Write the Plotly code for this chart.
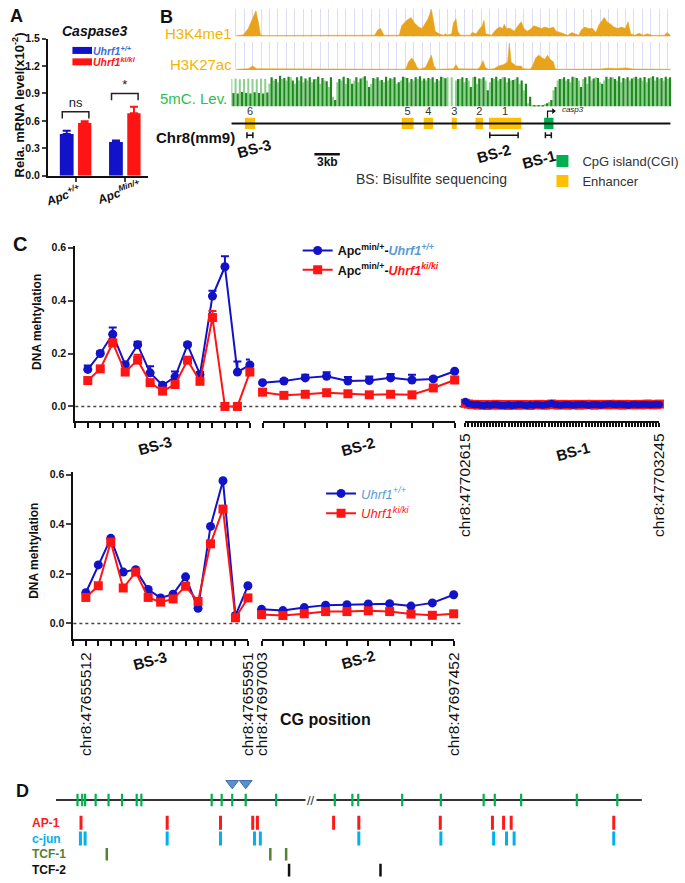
import plotly.graph_objects as go

W, H = 685, 883
FONT = "Liberation Sans, Arial, sans-serif"

# ======================= DATA =======================
# ---- Panel A : Caspase3 mRNA ----
a_groups = [1, 2]
a_group_labels = ["Apc<sup>+/+</sup>", "Apc<sup>Min/+</sup>"]
a_series = ["Uhrf1<sup>+/+</sup>", "Uhrf1<sup>ki/ki</sup>"]
a_wt = [0.457, 0.367]
a_wt_err = [0.035, 0.018]
a_ki = [0.576, 0.683]
a_ki_err = [0.018, 0.072]
a_sig_text = ["ns", "*"]
a_sig_y = [0.70, 0.90]
a_yticks = [0.0, 0.3, 0.6, 0.9, 1.2, 1.5]

# ---- Panel B : locus tracks (kb along locus) ----
locus_kb = 51.8
k4_x = [0.6, 1.4, 2.0, 2.5, 2.9, 3.2, 3.45, 3.9, 16.6, 16.9, 17.3, 17.6, 18.0,
        19.8, 20.1, 20.7, 21.2, 21.6, 22.1, 22.5, 22.9, 23.2, 23.6, 23.8, 24.05, 24.5, 25.0, 25.3, 25.5,
        26.0, 26.2, 26.5, 26.7, 27.0, 28.2, 28.4, 28.9, 29.2, 29.6, 29.8, 30.0, 30.7, 31.2, 31.6, 32.0,
        32.2, 32.45, 32.9, 33.4, 33.7, 34.2, 34.5, 34.9, 35.2, 35.7, 36.1, 36.6, 37.0, 37.5, 38.0, 38.3,
        38.8, 39.2, 39.7, 40.2, 40.5, 41.0, 41.3, 41.7, 42.1, 42.6, 43.0, 43.4, 43.7, 44.0, 44.3, 44.8,
        45.1, 45.6, 46.0, 46.5, 46.8, 47.1, 47.6, 48.1, 48.6, 49.1, 49.7, 51.1, 51.4, 51.8]
k4_y = [0.04, 0.06, 0.3, 0.7, 0.95, 0.5, 0.05, 0.04, 0.04, 0.05, 0.25, 0.3, 0.05,
        0.05, 0.4, 0.6, 0.7, 0.5, 0.35, 0.3, 0.5, 0.65, 1.0, 0.6, 0.2, 0.1, 0.05, 0.1, 0.05,
        0.1, 0.5, 0.65, 0.2, 0.05, 0.05, 0.15, 0.1, 0.25, 0.4, 0.6, 0.1, 0.05, 0.25, 0.35, 0.3,
        0.45, 0.3, 0.3, 0.2, 0.35, 0.55, 0.3, 0.2, 0.25, 0.4, 0.35, 0.3, 0.35, 0.3, 0.35, 0.2,
        0.15, 0.1, 0.05, 0.15, 0.1, 0.05, 0.25, 0.35, 0.3, 0.3, 0.15, 0.45, 0.6, 0.7, 0.55, 0.45,
        0.35, 0.3, 0.35, 0.3, 0.55, 0.1, 0.05, 0.12, 0.05, 0.1, 0.04, 0.05, 0.15, 0.05]
k27_x = [0.6, 2.0, 2.5, 3.0, 20.3, 20.6, 20.9, 21.3, 21.7, 21.9, 22.2, 22.9, 23.6, 23.9, 24.2,
         26.2, 26.5, 26.8, 29.0, 29.3, 29.7, 29.95, 30.3, 31.0, 31.5, 32.1, 32.6, 32.8, 33.0, 33.6,
         34.2, 34.4, 35.3, 35.6, 35.9, 36.25, 36.7, 37.0, 37.3, 37.6, 38.0, 38.2, 38.5, 43.6, 44.3,
         45.5, 46.6, 47.4, 51.8]
k27_y = [0.03, 0.05, 0.15, 0.05, 0.03, 0.05, 0.3, 0.45, 0.25, 0.1, 0.03, 0.1, 0.55, 0.15, 0.03,
         0.05, 0.2, 0.05, 0.04, 0.1, 0.35, 0.1, 0.03, 0.05, 0.15, 0.2, 0.3, 1.0, 0.3, 0.15,
         0.15, 0.05, 0.04, 0.2, 0.45, 0.55, 0.45, 0.4, 0.55, 0.4, 0.3, 0.05, 0.03, 0.04, 0.07,
         0.06, 0.08, 0.04, 0.03]
mc_dark = [0.42, 0.4, 0.45, 0.42, 0.4, 0.44, 0.42, 0.4, 0.43,
           0.9, 0.85, 0.95, 0.88, 0.92, 0.8, 0.9, 0.93, 0.86,
           0.9, 0.84, 0.92, 0.88, 0.78, 0.9, 0.2,
           0.85, 0.92, 0.88, 0.7, 0.9, 0.86, 0.93, 0.6, 0.88, 0.9, 0.82, 0.92, 0.87, 0.9, 0.75, 0.92, 0.88, 0.85, 0.9, 0.93, 0.86,
           0.88, 0.9, 0.85, 0.92, 0.87,
           0.0, 0.0,
           0.85, 0.9, 0.88, 0.6, 0.92, 0.86, 0.9, 0.5, 0.88, 0.92, 0.85, 0.9, 0.87, 0.82, 0.9, 0.8, 0.7,
           0.3, 0.05, 0.05, 0.05, 0.1,
           0.2, 0.6, 0.85,
           0.9, 0.85, 0.92, 0.88, 0.6, 0.9, 0.93, 0.86, 0.88, 0.7, 0.92, 0.9, 0.85, 0.93, 0.88, 0.9, 0.86, 0.92, 0.89, 0.91, 0.87, 0.93, 0.9, 0.88, 0.92, 0.9]
mc_light = [0.85, 0.86, 0.84, 0.85, 0.86, 0.85, 0.84, 0.86, 0.85,
            0.7, 0.8, 0.75, 0.85, 0.8, 0.9, 0.7, 0.8, 0.75,
            0.8, 0.75, 0.85, 0.7, 0.8, 0.6, 0.3,
            0.75, 0.8, 0.7, 0.85, 0.8, 0.75, 0.9, 0.8, 0.7, 0.85, 0.8, 0.75, 0.8, 0.85, 0.7, 0.8, 0.9, 0.75, 0.8, 0.85, 0.8,
            0.8, 0.85, 0.75, 0.8, 0.9,
            0.9, 0.9,
            0.8, 0.85, 0.75, 0.8, 0.9, 0.7, 0.85, 0.8, 0.75, 0.85, 0.8, 0.9, 0.75, 0.8, 0.85, 0.7, 0.5,
            0.1, 0.03, 0.03, 0.04, 0.08,
            0.15, 0.5, 0.8,
            0.85, 0.8, 0.75, 0.9, 0.8, 0.85, 0.7, 0.8, 0.9, 0.75, 0.8, 0.85, 0.9, 0.8, 0.75, 0.85, 0.8, 0.9, 0.85, 0.8, 0.75, 0.9, 0.8, 0.85, 0.8, 0.85]
mc_bin_kb = 0.5
enh_names = ["6", "5", "4", "3", "2", "1"]
enh_start = [1.6, 20.1, 22.7, 26.0, 28.8, 30.4]
enh_end = [2.8, 21.5, 23.8, 26.6, 29.7, 34.2]
cgi_start, cgi_end = [36.9], [38.0]
tss_kb = 37.3
bs_names = ["BS-3", "BS-2", "BS-1"]
bs_center = [2.19, 32.16, 37.4]
bs_half = [0.35, 1.67, 0.35]
scale_kb = [9.8, 12.8]

# ---- Panel C : DNA methylation per CG ----
top_bs3_wt = [0.14, 0.20, 0.273, 0.158, 0.233, 0.127, 0.08, 0.112, 0.233, 0.121, 0.417, 0.528, 0.13, 0.157]
top_bs3_wt_err = [0.015, 0.008, 0.025, 0.008, 0.012, 0.025, 0.008, 0.02, 0.008, 0.008, 0.02, 0.04, 0.04, 0.02]
top_bs3_ki = [0.098, 0.142, 0.24, 0.13, 0.175, 0.09, 0.058, 0.083, 0.175, 0.095, 0.336, 0.0, 0.0, 0.13]
top_bs3_ki_err = [0, 0, 0.012, 0, 0.02, 0, 0, 0, 0.01, 0, 0.025, 0, 0, 0.008]
top_bs2_wt = [0.09, 0.096, 0.108, 0.114, 0.096, 0.098, 0.108, 0.10, 0.104, 0.133]
top_bs2_wt_err = [0.0, 0.008, 0.012, 0.015, 0.015, 0.015, 0.015, 0.02, 0.006, 0.0]
top_bs2_ki = [0.054, 0.042, 0.046, 0.052, 0.048, 0.044, 0.046, 0.044, 0.07, 0.10]
top_bs1_wt = [0.02, 0.01, 0.008, 0.006, 0.007, 0.005, 0.004, 0.006, 0.005, 0.006, 0.007, 0.005, 0.004, 0.005,
              0.006, 0.004, 0.005, 0.006, 0.007, 0.005, 0.004, 0.006, 0.005, 0.007, 0.006, 0.005, 0.006, 0.008,
              0.012, 0.007, 0.006, 0.005, 0.006, 0.007, 0.006, 0.005, 0.006, 0.007, 0.008, 0.006, 0.005, 0.006,
              0.007, 0.006, 0.005, 0.007, 0.008, 0.009, 0.007, 0.006, 0.008, 0.007, 0.006, 0.005, 0.007, 0.008,
              0.006, 0.007, 0.008, 0.007, 0.006, 0.007, 0.008, 0.007]
top_bs1_ki = [0.012, 0.009, 0.007, 0.008, 0.005, 0.007, 0.006, 0.004, 0.007, 0.005, 0.008, 0.006, 0.005, 0.007,
              0.004, 0.006, 0.007, 0.005, 0.006, 0.007, 0.006, 0.004, 0.007, 0.006, 0.008, 0.006, 0.005, 0.007,
              0.009, 0.008, 0.005, 0.007, 0.008, 0.005, 0.007, 0.006, 0.008, 0.005, 0.007, 0.008, 0.006, 0.008,
              0.005, 0.007, 0.008, 0.006, 0.007, 0.008, 0.006, 0.008, 0.007, 0.005, 0.008, 0.007, 0.006, 0.007,
              0.008, 0.006, 0.007, 0.009, 0.008, 0.006, 0.007, 0.009]
bot_bs3_wt = [0.124, 0.236, 0.343, 0.207, 0.217, 0.137, 0.103, 0.118, 0.188, 0.061, 0.391, 0.575, 0.032, 0.152]
bot_bs3_ki = [0.105, 0.152, 0.328, 0.143, 0.207, 0.105, 0.086, 0.099, 0.150, 0.089, 0.321, 0.461, 0.023, 0.103]
bot_bs2_wt = [0.057, 0.052, 0.064, 0.074, 0.076, 0.079, 0.080, 0.070, 0.083, 0.116]
bot_bs2_ki = [0.036, 0.032, 0.039, 0.048, 0.048, 0.051, 0.048, 0.038, 0.033, 0.039]
c_yticks = [0.0, 0.2, 0.4, 0.6]
bs3_pos = ["chr8:47655512", "chr8:47655951"]
bs2_pos = ["chr8:47697003", "chr8:47697452"]
bs1_pos = ["chr8:47702615", "chr8:47703245"]

# ---- Panel D : motif map (relative position 0-100) ----
d_cg = [3.7, 4.5, 5.0, 6.8, 9.0, 11.3, 13.8, 14.6, 26.6, 28.3, 30.1, 32.4, 37.6,
        47.6, 50.6, 51.6, 59.1, 65.7, 73.0, 74.9, 79.4, 88.9, 95.8]
d_marked = [30.1, 32.4]
d_ap1 = [4.3, 19.0, 28.1, 33.6, 34.4, 47.4, 51.7, 65.6, 74.5, 76.4, 77.7, 95.2]
d_cjun = [4.2, 5.0, 19.0, 28.1, 33.9, 34.9, 51.7, 65.7, 74.7, 76.9, 78.2, 95.2]
d_tcf1 = [8.7, 36.6, 39.3]
d_tcf2 = [39.8, 55.4]
d_break = 43.6
d_rows = {"line": 0.0, "mark": 0.85, "AP-1": -1.15, "c-jun": -1.95, "TCF-1": -2.75, "TCF-2": -3.55}

# ======================= HELPERS =======================
def PX(x):
    return x / W

def PY(y):
    return 1 - y / H

def dom_x(a, b):
    return [PX(a), PX(b)]

def dom_y(top, bottom):
    return [PY(bottom), PY(top)]

BLUE = "#1212c8"
RED = "#ff1414"
LBLUE = "#5b9bd5"
ORANGE = "#e9a31b"
DGREEN = "#1d8a1d"
LGREEN = "#8fcf8f"

fig = go.Figure()
annotations = []
shapes = []

def ann(text, x, y, size=12, bold=False, color="#111", angle=0, xanchor="center", yanchor="middle",
        italic=False, xref="paper", yref="paper", bgcolor=None):
    t = text
    if italic:
        t = "<i>" + t + "</i>"
    if bold:
        t = "<b>" + t + "</b>"
    d = dict(text=t, x=PX(x) if xref == "paper" else x, y=PY(y) if yref == "paper" else y,
             xref=xref, yref=yref, showarrow=False, textangle=angle,
             xanchor=xanchor, yanchor=yanchor, font=dict(size=size, color=color, family=FONT))
    if bgcolor:
        d["bgcolor"] = bgcolor
    annotations.append(d)

# ======================= PANEL A =======================
fig.add_trace(go.Bar(
    x=a_groups, y=a_wt, offset=-0.32, width=0.28, xaxis="x", yaxis="y",
    marker=dict(color=BLUE, line=dict(width=0)),
    error_y=dict(type="data", array=a_wt_err, arrayminus=[0] * len(a_wt), symmetric=False,
                 color=BLUE, thickness=2, width=4),
    name=a_series[0], showlegend=False))
fig.add_trace(go.Bar(
    x=a_groups, y=a_ki, offset=0.05, width=0.27, xaxis="x", yaxis="y",
    marker=dict(color=RED, line=dict(width=0)),
    error_y=dict(type="data", array=a_ki_err, arrayminus=[0] * len(a_ki), symmetric=False,
                 color=RED, thickness=2, width=4),
    name=a_series[1], showlegend=False))
for g, sy, st in zip(a_groups, a_sig_y, a_sig_text):
    fig.add_trace(go.Scatter(
        x=[g - 0.27, g - 0.27, g + 0.27, g + 0.27], y=[sy - 0.075, sy, sy, sy - 0.075],
        mode="lines", line=dict(color="#222", width=1.5), xaxis="x", yaxis="y",
        showlegend=False, hoverinfo="skip"))
    fig.add_trace(go.Scatter(
        x=[g], y=[sy + 0.085], mode="text", text=[st], xaxis="x", yaxis="y",
        textfont=dict(size=13, color="#222", family=FONT), showlegend=False, hoverinfo="skip"))
# compact legend of panel A (key swatches on the A axes)
for i, (nm, col, tcol) in enumerate(zip(a_series, [BLUE, RED], ["#3a6fd8", RED])):
    ly = 1.37 - 0.125 * i
    fig.add_trace(go.Scatter(x=[1.135], y=[ly], mode="markers", xaxis="x", yaxis="y",
                             marker=dict(symbol="line-ew", size=14, line=dict(color=col, width=7)),
                             showlegend=False, hoverinfo="skip", cliponaxis=False))
    ann(nm, 1.31, ly, size=10.5, bold=True, italic=True, color=tcol, xanchor="left", xref="x", yref="y")

# ======================= PANEL B =======================
fig.add_trace(go.Scatter(x=k4_x, y=k4_y, mode="lines", fill="tozeroy", fillcolor=ORANGE,
                         line=dict(color=ORANGE, width=0.6), xaxis="x2", yaxis="y2",
                         showlegend=False, hoverinfo="skip"))
fig.add_trace(go.Scatter(x=k27_x, y=k27_y, mode="lines", fill="tozeroy", fillcolor=ORANGE,
                         line=dict(color=ORANGE, width=0.6), xaxis="x3", yaxis="y3",
                         showlegend=False, hoverinfo="skip"))
mc_x_light = [i * mc_bin_kb for i in range(len(mc_light))]
mc_x_dark = [i * mc_bin_kb + mc_bin_kb / 2 for i in range(len(mc_dark))]
fig.add_trace(go.Bar(x=mc_x_light, y=mc_light, width=0.24, marker=dict(color=LGREEN, line=dict(width=0)),
                     xaxis="x4", yaxis="y4", showlegend=False, hoverinfo="skip"))
fig.add_trace(go.Bar(x=mc_x_dark, y=mc_dark, width=0.26, marker=dict(color=DGREEN, line=dict(width=0)),
                     xaxis="x4", yaxis="y4", showlegend=False, hoverinfo="skip"))

# locus map
fig.add_trace(go.Scatter(x=[0, locus_kb], y=[0, 0], mode="lines", line=dict(color="#111", width=2),
                         xaxis="x5", yaxis="y5", showlegend=False, hoverinfo="skip"))
fig.add_trace(go.Bar(orientation="h", y=[0] * len(cgi_start), base=cgi_start,
                     x=[e - s for s, e in zip(cgi_start, cgi_end)], width=0.7,
                     marker=dict(color="#00b050", line=dict(width=0)), xaxis="x5", yaxis="y5",
                     name="CpG island(CGI)", legend="legend4"))
fig.add_trace(go.Bar(orientation="h", y=[0] * len(enh_start), base=enh_start,
                     x=[e - s for s, e in zip(enh_start, enh_end)], width=0.7,
                     marker=dict(color="#ffc000", line=dict(width=0)), xaxis="x5", yaxis="y5",
                     name="Enhancer", legend="legend4"))
fig.add_trace(go.Scatter(x=[(s + e) / 2 for s, e in zip(enh_start, enh_end)], y=[0.68] * len(enh_start),
                         mode="text", text=enh_names, textfont=dict(size=11, color="#333", family=FONT),
                         xaxis="x5", yaxis="y5", showlegend=False, hoverinfo="skip"))
fig.add_trace(go.Scatter(x=bs_center, y=[-0.75] * len(bs_center), mode="markers",
                         marker=dict(size=1, color="#111"),
                         error_x=dict(type="data", array=bs_half, color="#111", thickness=1.5, width=3),
                         xaxis="x5", yaxis="y5", showlegend=False, hoverinfo="skip"))
fig.add_trace(go.Scatter(x=scale_kb, y=[-1.95, -1.95], mode="lines", line=dict(color="#111", width=2.5),
                         xaxis="x5", yaxis="y5", showlegend=False, hoverinfo="skip"))
fig.add_trace(go.Scatter(x=[tss_kb, tss_kb, tss_kb + 0.6], y=[0.35, 0.78, 0.78], mode="lines",
                         line=dict(color="#111", width=1.2), xaxis="x5", yaxis="y5",
                         showlegend=False, hoverinfo="skip"))
fig.add_trace(go.Scatter(x=[tss_kb + 0.7], y=[0.78], mode="markers",
                         marker=dict(symbol="triangle-right", size=5, color="#111"),
                         xaxis="x5", yaxis="y5", showlegend=False, hoverinfo="skip"))
fig.add_trace(go.Scatter(x=[tss_kb + 1.7], y=[0.85], mode="text", text=["<i>casp3</i>"],
                         textposition="middle right", textfont=dict(size=8, color="#222", family=FONT),
                         xaxis="x5", yaxis="y5", showlegend=False, hoverinfo="skip"))

# ======================= PANEL C =======================
def meth(xax, yax, xs, wt, ki, wt_err=None, ki_err=None, legend=None, names=None, msize=9):
    kw_ki = {}
    kw_wt = {}
    if ki_err is not None:
        kw_ki["error_y"] = dict(type="data", array=ki_err, arrayminus=[0] * len(ki), symmetric=False,
                                color=RED, thickness=2, width=4)
    if wt_err is not None:
        kw_wt["error_y"] = dict(type="data", array=wt_err, arrayminus=[0] * len(wt), symmetric=False,
                                color=BLUE, thickness=2, width=4)
    show = legend is not None
    fig.add_trace(go.Scatter(x=xs, y=wt, mode="lines+markers", xaxis=xax, yaxis=yax,
                             line=dict(color=BLUE, width=2), marker=dict(symbol="circle", size=msize, color=BLUE),
                             cliponaxis=False, showlegend=show, legend=legend or "legend",
                             name=names[0] if names else "wt", legendrank=1, **kw_wt))
    fig.add_trace(go.Scatter(x=xs, y=ki, mode="lines+markers", xaxis=xax, yaxis=yax,
                             line=dict(color=RED, width=2), marker=dict(symbol="square", size=msize, color=RED),
                             cliponaxis=False, showlegend=show, legend=legend or "legend",
                             name=names[1] if names else "ki", legendrank=2, **kw_ki))

top_names = ["<b>Apc<sup>min/+</sup>-<i><span style='color:#5b9bd5'>Uhrf1<sup>+/+</sup></span></i></b>",
             "<b>Apc<sup>min/+</sup>-<i><span style='color:#ff1414'>Uhrf1<sup>ki/ki</sup></span></i></b>"]
bot_names = ["<i><span style='color:#5b9bd5'>Uhrf1<sup>+/+</sup></span></i>",
             "<i><span style='color:#ff1414'>Uhrf1<sup>ki/ki</sup></span></i>"]

meth("x6", "y6", list(range(1, len(top_bs3_wt) + 1)), top_bs3_wt, top_bs3_ki,
     top_bs3_wt_err, top_bs3_ki_err, legend="legend2", names=top_names)
meth("x7", "y7", list(range(len(top_bs2_wt))), top_bs2_wt, top_bs2_ki, top_bs2_wt_err)
# BS-1: red drawn first (under), blue on top
fig.add_trace(go.Scatter(x=list(range(len(top_bs1_ki))), y=top_bs1_ki, mode="lines+markers", xaxis="x8", yaxis="y8",
                         line=dict(color=RED, width=2), marker=dict(symbol="square", size=9, color=RED),
                         cliponaxis=False, showlegend=False, hoverinfo="skip"))
fig.add_trace(go.Scatter(x=list(range(len(top_bs1_wt))), y=top_bs1_wt, mode="lines+markers", xaxis="x8", yaxis="y8",
                         line=dict(color=BLUE, width=2), marker=dict(symbol="circle", size=7, color=BLUE),
                         cliponaxis=False, showlegend=False, hoverinfo="skip"))
meth("x9", "y9", list(range(1, len(bot_bs3_wt) + 1)), bot_bs3_wt, bot_bs3_ki,
     legend="legend3", names=bot_names, msize=9)
meth("x10", "y10", list(range(len(bot_bs2_wt))), bot_bs2_wt, bot_bs2_ki, msize=9)

# ======================= PANEL D =======================
def dticks(xs, row, color, size, width, sym="line-ns"):
    fig.add_trace(go.Scatter(x=xs, y=[d_rows[row]] * len(xs), mode="markers", xaxis="x11", yaxis="y11",
                             marker=dict(symbol=sym, size=size, line=dict(color=color, width=width), color=color),
                             showlegend=False, hoverinfo="skip"))

fig.add_trace(go.Scatter(x=[0, 100], y=[d_rows["line"]] * 2, mode="lines", line=dict(color="#333", width=2),
                         xaxis="x11", yaxis="y11", showlegend=False, hoverinfo="skip"))
dticks(d_cg, "line", "#00b050", 9, 2.2)
fig.add_trace(go.Scatter(x=d_marked, y=[d_rows["mark"]] * len(d_marked), mode="markers", xaxis="x11", yaxis="y11",
                         marker=dict(symbol="triangle-down", size=11, color="#5b8fd0",
                                     line=dict(color="#3d6fae", width=1)),
                         showlegend=False, hoverinfo="skip"))
dticks(d_ap1, "AP-1", "#ff1a1a", 10, 3)
dticks(d_cjun, "c-jun", "#00b0f0", 10, 3)
dticks(d_tcf1, "TCF-1", "#548235", 9, 2.5)
dticks(d_tcf2, "TCF-2", "#111", 9, 2.5)
ann("//", d_break, d_rows["line"], size=13, color="#333", xref="x11", yref="y11", bgcolor="white")
for name, col in [("AP-1", "#ff1a1a"), ("c-jun", "#00b0f0"), ("TCF-1", "#548235"), ("TCF-2", "#111")]:
    ann(name, 22, 0, size=12, bold=True, color=col, xanchor="left")
    annotations[-1]["yref"] = "y11"
    annotations[-1]["y"] = d_rows[name]

# ======================= ANNOTATIONS =======================
ann("A", 8, 10, size=18, bold=True)
ann("B", 162, 11, size=18, bold=True)
ann("C", 11, 241, size=20, bold=True)
ann("D", 14, 796, size=18, bold=True)

ann("Caspase3", 88, 25, size=14, bold=True, italic=True)
ann("Rela. mRNA level(x10<sup>-2</sup>)", 9, 100, size=13, bold=True, angle=-90)
ann(a_group_labels[0], 55, 192, size=12, bold=True, italic=True, angle=-20)
ann(a_group_labels[1], 112, 189, size=12, bold=True, italic=True, angle=-20)

ann("H3K4me1", 231, 28, size=15, color="#f5b400", xanchor="right")
ann("H3K27ac", 231, 59, size=15, color="#f5b400", xanchor="right")
ann("5mC. Lev.", 226, 94, size=15, color="#2ebd4e", xanchor="right")
ann("Chr8(mm9)", 234, 133, size=15, bold=True, xanchor="right")
for nm, x, y in zip(bs_names, [251, 497, 543], [144, 150, 156]):
    ann(nm, x, y, size=15, bold=True, angle=-15)
ann("3kb", (scale_kb[0] + scale_kb[1]) / 2, -2.45, size=12, bold=True, xref="x5", yref="y5")
ann("BS: Bisulfite sequencing", 433, 175, size=14, color="#333")

ann("DNA mehtylation", 28, 320, size=12, bold=True, angle=-90)
ann("DNA mehtylation", 26, 552, size=12, bold=True, angle=-90)
ann("BS-3", 150, 446, size=15, bold=True, angle=-15)
ann("BS-2", 358, 447, size=15, bold=True, angle=-15)
ann("BS-1", 578, 452, size=15, bold=True, angle=-15)
ann("BS-3", 145, 664, size=15, bold=True, angle=-15)
ann("BS-2", 358, 662, size=15, bold=True, angle=-15)
ann("CG position", 325, 723, size=16, bold=True)

# zero dotted lines
shapes.append(dict(type="line", xref="paper", yref="y6", x0=PX(68), x1=PX(468), y0=0, y1=0,
                   line=dict(color="#444", width=1.5, dash="dot"), layer="below"))
shapes.append(dict(type="line", xref="paper", yref="y9", x0=PX(66), x1=PX(465), y0=0, y1=0,
                   line=dict(color="#444", width=1.5, dash="dot"), layer="below"))

# ======================= LAYOUT =======================
hidden = dict(visible=False, fixedrange=True)
BOLD10 = dict(size=10.5, family=FONT, color="#111", weight="bold")

def seg_xaxis(dom, n, anchor, labels=None, ticklen=5):
    d = dict(domain=dom, range=[0, n], anchor=anchor, showline=True, linewidth=2, linecolor="#111",
             ticks="outside", ticklen=ticklen, tickwidth=2, tickcolor="#111",
             showgrid=False, zeroline=False)
    if labels:
        d.update(tickvals=[p for p, _ in labels], ticktext=[t for _, t in labels], tickangle=-90,
                 tickfont=dict(size=15.5, family=FONT, color="#111"), showticklabels=True,
                 minor=dict(ticks="outside", dtick=1, tick0=0, ticklen=ticklen, tickwidth=2,
                            tickcolor="#111", showgrid=False))
    else:
        d.update(tick0=0, dtick=1, showticklabels=False)
    return d

def c_yaxis(dom, rng, anchor, show=True):
    if not show:
        return dict(domain=dom, range=rng, anchor=anchor, visible=False)
    return dict(domain=dom, range=rng, anchor=anchor, showline=True, linewidth=2, linecolor="#111",
                ticks="outside", tickvals=c_yticks, ticktext=[f"{v:.1f}" for v in c_yticks],
                ticklen=5, tickwidth=2, tickfont=BOLD10, showgrid=False, zeroline=False)

top_rng = [-0.056, 0.6075]
top_dom = dom_y(243, 421)
bot_rng = [-0.0636, 0.612]
bot_dom = dom_y(472, 642)
track_dom = dom_x(228, 680)

layout = dict(
    width=W, height=H, margin=dict(l=0, r=0, t=0, b=0),
    paper_bgcolor="white", plot_bgcolor="rgba(0,0,0,0)",
    font=dict(family=FONT, color="#111"), barmode="overlay", showlegend=True,
    xaxis=dict(domain=dom_x(40, 143), range=[0.44, 2.48], anchor="y", showline=True, linewidth=2,
               linecolor="#111", ticks="outside", tickvals=a_groups, showticklabels=False, ticklen=4,
               tickwidth=1.5, showgrid=False, zeroline=False),
    yaxis=dict(domain=dom_y(33, 172), range=[0, 1.5], anchor="x", showline=True, linewidth=2,
               linecolor="#111", ticks="outside", tickvals=a_yticks,
               ticktext=[f"{v:.1f}" for v in a_yticks], ticklen=4, tickwidth=1.5,
               tickfont=BOLD10, showgrid=False, zeroline=False),
    xaxis2=dict(domain=track_dom, range=[0, 52], anchor="y2", showgrid=True, gridcolor="#dcdcf4",
                gridwidth=1, dtick=1, tick0=0.5, showticklabels=False, ticks="", zeroline=False, showline=False),
    yaxis2=dict(domain=dom_y(3, 31), range=[0, 1.02], anchor="x2", visible=False),
    xaxis3=dict(domain=track_dom, range=[0, 52], anchor="y3", showgrid=True, gridcolor="#dcdcf4",
                gridwidth=1, dtick=1, tick0=0.5, showticklabels=False, ticks="", zeroline=False, showline=False),
    yaxis3=dict(domain=dom_y(37, 65), range=[0, 1.02], anchor="x3", visible=False),
    xaxis4=dict(domain=track_dom, range=[0, 52], anchor="y4", **hidden),
    yaxis4=dict(domain=dom_y(69, 102), range=[0, 1.0], anchor="x4", **hidden),
    xaxis5=dict(domain=track_dom, range=[0, 52], anchor="y5", **hidden),
    yaxis5=dict(domain=dom_y(100, 180), range=[-3.8125, 1.1875], anchor="x5", **hidden),
    xaxis6=seg_xaxis(dom_x(68, 247), len(top_bs3_wt), "y6"),
    yaxis6=c_yaxis(top_dom, top_rng, "x6"),
    xaxis7=seg_xaxis(dom_x(260, 457), len(top_bs2_wt) - 1, "y7"),
    yaxis7=c_yaxis(top_dom, top_rng, "x7", show=False),
    xaxis8=seg_xaxis(dom_x(468, 667), len(top_bs1_wt) - 1, "y8",
                     labels=[(0, bs1_pos[0]), (len(top_bs1_wt) - 1, bs1_pos[1])], ticklen=4),
    yaxis8=c_yaxis(top_dom, top_rng, "x8", show=False),
    xaxis9=seg_xaxis(dom_x(66, 245), len(bot_bs3_wt), "y9",
                     labels=[(1, bs3_pos[0]), (len(bot_bs3_wt), bs3_pos[1])]),
    yaxis9=c_yaxis(bot_dom, bot_rng, "x9"),
    xaxis10=seg_xaxis(dom_x(259, 456), len(bot_bs2_wt) - 1, "y10",
                      labels=[(0, bs2_pos[0]), (len(bot_bs2_wt) - 1, bs2_pos[1])]),
    yaxis10=c_yaxis(bot_dom, bot_rng, "x10", show=False),
    xaxis11=dict(domain=dom_x(48, 649), range=[0, 100], anchor="y11", **hidden),
    yaxis11=dict(domain=dom_y(780, 883), range=[-3.9, 1.25], anchor="x11", **hidden),
    legend2=dict(x=PX(296), y=PY(233), xanchor="left", yanchor="top", bgcolor="rgba(0,0,0,0)",
                 font=dict(size=12.5, family=FONT, color="#111"), itemwidth=30, tracegroupgap=0),
    legend3=dict(x=PX(320), y=PY(479), xanchor="left", yanchor="top", bgcolor="rgba(0,0,0,0)",
                 font=dict(size=13, family=FONT), itemwidth=30, tracegroupgap=0),
    legend4=dict(x=PX(547), y=PY(142), xanchor="left", yanchor="top", bgcolor="rgba(0,0,0,0)",
                 font=dict(size=13, family=FONT, color="#333"), itemwidth=30, tracegroupgap=0),
    annotations=annotations, shapes=shapes,
)
fig.update_layout(**layout)
fig.write_html("out.html", config={"displayModeBar": False, "staticPlot": False},
               post_script="document.body.style.margin='0';")
